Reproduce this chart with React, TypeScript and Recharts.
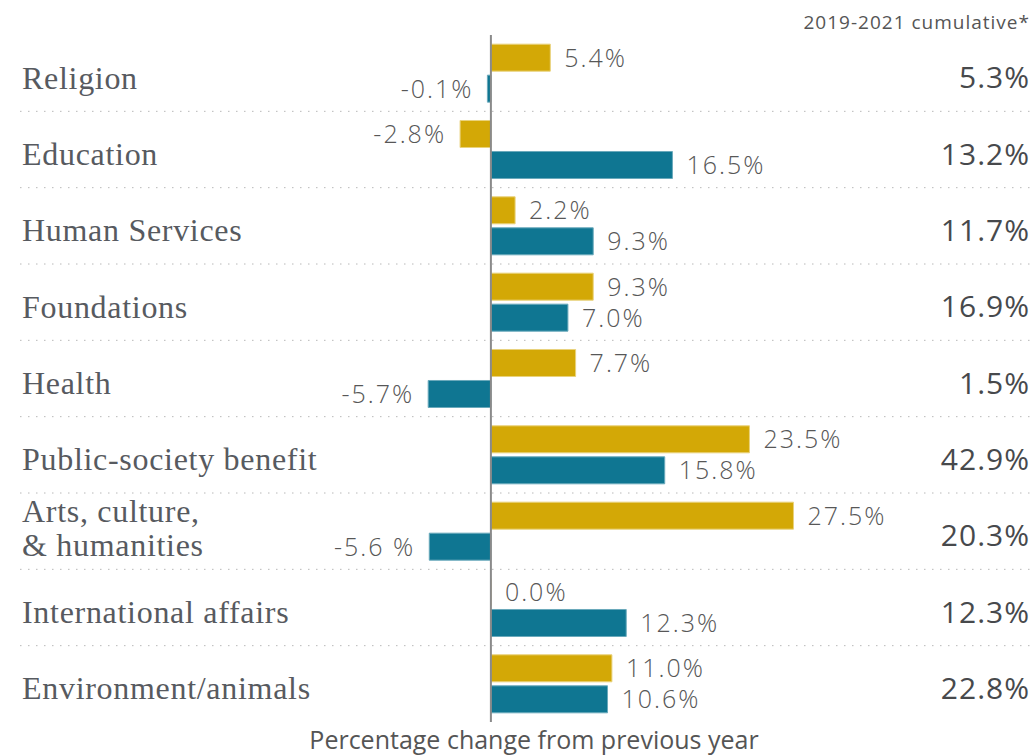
import React from 'react';
import { BarChart, Bar, XAxis, YAxis, CartesianGrid, ReferenceLine, LabelList } from 'recharts';

const categories = [
  'Religion',
  'Education',
  'Human Services',
  'Foundations',
  'Health',
  'Public-society benefit',
  'Arts, culture,\n& humanities',
  'International affairs',
  'Environment/animals',
];
const change2020 = [5.4, -2.8, 2.2, 9.3, 7.7, 23.5, 27.5, 0.0, 11.0];
const change2021 = [-0.1, 16.5, 9.3, 7.0, -5.7, 15.8, -5.6, 12.3, 10.6];
const labels2020 = ['5.4%', '-2.8%', '2.2%', '9.3%', '7.7%', '23.5%', '27.5%', '0.0%', '11.0%'];
const labels2021 = ['-0.1%', '16.5%', '9.3%', '7.0%', '-5.7%', '15.8%', '-5.6 %', '12.3%', '10.6%'];
const cumulative = ['5.3%', '13.2%', '11.7%', '16.9%', '1.5%', '42.9%', '20.3%', '12.3%', '22.8%'];

const GOLD = '#D3A806';
const TEAL = '#0F7692';
const SANS = '"Open Sans", "Noto Sans", sans-serif';
const SERIF = '"Liberation Serif", "DejaVu Serif", serif';

const data = categories.map((name, i) => ({
  name,
  y2020: change2020[i],
  y2021: change2021[i],
  l2020: labels2020[i],
  l2021: labels2021[i],
  cum: cumulative[i],
}));

const CategoryTick = (props: any) => {
  const { y, payload, index } = props;
  const lines = String(payload.value).split('\n');
  const first = lines.length > 1 ? y - 9.5 : y + 15.5;
  return (
    <g>
      <text x={22} y={first} fill="#575a60" fontFamily={SERIF} fontSize={32} letterSpacing={0.7}>
        {lines.map((l, i) => (
          <tspan key={i} x={22} dy={i === 0 ? 0 : 34}>{l}</tspan>
        ))}
      </text>
      <text x={1030} y={y + 15} textAnchor="end" fill="#47494c" fontFamily={SANS} fontSize={30} letterSpacing={1}>
        {data[index] ? data[index].cum : ''}
      </text>
    </g>
  );
};

const BarValueLabel = (props: any) => {
  const vb = props.viewBox || props;
  const text = String(props.value);
  const x0 = Number(vb.x);
  const x1 = x0 + Number(vb.width);
  const left = Math.min(x0, x1);
  const right = Math.max(x0, x1);
  const cy = Number(vb.y) + Number(vb.height) / 2;
  const neg = text.startsWith('-');
  return (
    <text
      x={neg ? left - 14 : right + 14}
      y={cy + 9}
      textAnchor={neg ? 'end' : 'start'}
      fill="#575757"
      fontFamily={SANS}
      fontSize={25}
      fontWeight={300}
      letterSpacing={2}
    >
      {text}
    </text>
  );
};

// tiny bars get drawn a bit wider like the original; zero stays (almost) invisible
const minSize = (v: number) => (v === 0 ? 0.01 : 3.5);

export default function App() {
  return (
    <div style={{ position: 'absolute', left: 0, top: 0, width: 1036, height: 755, background: '#fff' }}>
      <div
        style={{
          position: 'absolute', right: 6, top: 9, fontFamily: SANS, fontSize: 19,
          letterSpacing: 1, color: '#555', whiteSpace: 'nowrap',
        }}
      >
        2019-2021 cumulative*
      </div>
      <BarChart
        width={1036}
        height={755}
        data={data}
        layout="vertical"
        margin={{ top: 35, right: 6, left: 19, bottom: 33 }}
        barCategoryGap="12%"
        barGap={4}
      >
        <CartesianGrid
          vertical={false}
          stroke="#b8b8b8"
          strokeDasharray="1.5 6.5"
          horizontalCoordinatesGenerator={({ offset }: any) => {
            const band = offset.height / categories.length;
            return categories.slice(1).map((_, i) => offset.top + band * (i + 1));
          }}
        />
        <XAxis type="number" domain={[-42.8, 49]} allowDataOverflow hide />
        <YAxis
          type="category"
          dataKey="name"
          width={1}
          axisLine={false}
          tickLine={false}
          tick={<CategoryTick />}
          interval={0}
        />
        <Bar dataKey="y2020" name="2020" fill={GOLD} stroke="#e9d27c" strokeWidth={1} minPointSize={minSize} isAnimationActive={false}>
          <LabelList dataKey="l2020" content={<BarValueLabel />} />
        </Bar>
        <Bar dataKey="y2021" name="2021" fill={TEAL} stroke="#6aa9bb" strokeWidth={1} minPointSize={minSize} isAnimationActive={false}>
          <LabelList dataKey="l2021" content={<BarValueLabel />} />
        </Bar>
        <ReferenceLine x={0} stroke="#8a8a8a" strokeWidth={2} />
      </BarChart>
      <div
        style={{
          position: 'absolute', left: 534, top: 724, transform: 'translateX(-50%)',
          fontFamily: SANS, fontSize: 25, color: '#555', whiteSpace: 'nowrap', lineHeight: '30px',
        }}
      >
        Percentage change from previous year
      </div>
    </div>
  );
}
